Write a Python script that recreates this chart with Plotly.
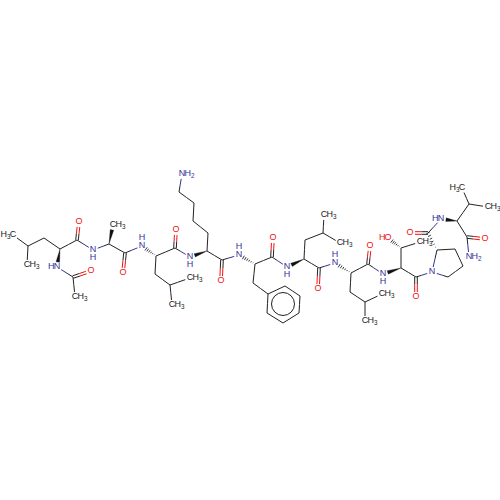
import math

import plotly.graph_objects as go

# atoms, positions in pixels
atom_names = [
    'me1', 'me2', 'cg1', 'cb1', 'ca1', 'c1', 'o1', 'n0', 'ac', 'aco', 'acme',
    'n1', 'ca2', 'me3', 'c2', 'o2', 'n2', 'ca3', 'cb3', 'cg3', 'me4', 'me5', 'c3', 'o3',
    'n3', 'ca4', 'ce1', 'ce2', 'ce3', 'ce4', 'nz', 'c4', 'o4',
    'n4', 'ca5', 'c5', 'o5', 'cb5', 'r1', 'r2', 'r3', 'r4', 'r5', 'r6',
    'n5', 'ca6', 'cb6', 'cg6', 'me6', 'me7', 'c6', 'o6',
    'n6', 'ca7', 'c7', 'o7', 'cb7', 'cg7', 'me8', 'me9',
    'n7', 'ca8', 'c8', 'o8', 'cb8', 'oh', 'me10',
    'n8', 'ca9', 'p1', 'p2', 'p3', 'c9', 'o9',
    'n9', 'ca10', 'cb10', 'me11', 'me12', 'c10', 'o10', 'n10',
]
atom_x = [
    13, 27, 28, 44, 60, 77, 79, 57, 73, 91, 75,
    93, 109, 113, 125, 123, 142, 156, 155, 170, 190, 172, 175, 176,
    190, 207, 208, 193, 194, 179, 182, 222, 221,
    239, 255, 272, 273, 253, 268, 285, 300, 299, 283, 267,
    287, 304, 305, 323, 324, 340, 319, 318,
    335, 351, 368, 370, 350, 365, 382, 365,
    383, 401, 416, 416, 401, 388, 420,
    432, 437, 455, 463, 448, 428, 410,
    441, 457, 469, 462, 488, 467, 485, 469,
]
atom_y = [
    235, 265, 246, 238, 249, 240, 222, 267, 277, 271, 297,
    250, 244, 225, 253, 273, 246, 256, 274, 285, 278, 305, 248, 230,
    257, 251, 233, 221, 203, 192, 174, 260, 281,
    255, 264, 257, 238, 283, 294, 286, 296, 313, 323, 313,
    267, 259, 240, 233, 215, 243, 268, 289,
    263, 273, 264, 246, 292, 302, 294, 321,
    274, 268, 277, 297, 248, 238, 242,
    272, 250, 249, 266, 277, 233, 233,
    219, 221, 204, 188, 207, 237, 239, 257,
]

# labelled atoms: letter on the atom, then what is written around it
label_atoms = ['me1', 'me2', 'o1', 'n0', 'aco', 'acme', 'n1', 'me3', 'o2', 'n2', 'me4', 'me5', 'o3',
               'n3', 'nz', 'o4', 'n4', 'o5', 'n5', 'me6', 'me7', 'o6', 'n6', 'o7', 'me8', 'me9',
               'n7', 'o8', 'oh', 'me10', 'n8', 'o9', 'n9', 'me11', 'me12', 'o10', 'n10']
label_main = ['C', 'C', 'O', 'N', 'O', 'C', 'N', 'C', 'O', 'N', 'C', 'C', 'O',
              'N', 'N', 'O', 'N', 'O', 'N', 'C', 'C', 'O', 'N', 'O', 'C', 'C',
              'N', 'O', 'O', 'C', 'N', 'O', 'N', 'C', 'C', 'O', 'N']
label_extra = ['H3<', 'H3>', '', 'H<', '', 'H3>', 'Hv', 'H3>', '', 'H^', 'H3>', 'H3>', '',
               'Hv', 'H2>', '', 'H^', '', 'Hv', 'H3>', 'H3>', '', 'H^', '', 'H3>', 'H3>',
               'Hv', '', 'H<', 'H3>', '', '', 'H<', 'H3<', 'H3>', '', 'H2>']

# bonds: 1 single, 2 double, w wedge, h hash (narrow end on the first atom)
bond_from = [
    'me1', 'me2', 'cg1', 'cb1', 'ca1', 'c1', 'c1', 'ca1', 'n0', 'ac', 'ac',
    'n1', 'ca2', 'ca2', 'c2', 'c2', 'ca3', 'ca3', 'cb3', 'cg3', 'cg3', 'ca3', 'c3', 'c3',
    'ca4', 'ca4', 'ce1', 'ce2', 'ce3', 'ce4', 'ca4', 'c4', 'c4',
    'ca5', 'ca5', 'c5', 'ca5', 'cb5', 'r1', 'r2', 'r3', 'r4', 'r5', 'r6', 'c5',
    'ca6', 'ca6', 'cb6', 'cg6', 'cg6', 'ca6', 'c6', 'c6',
    'ca7', 'ca7', 'c7', 'ca7', 'cb7', 'cg7', 'cg7', 'c7',
    'ca8', 'ca8', 'cb8', 'cb8', 'ca8', 'c8', 'c8',
    'n8', 'ca9', 'p1', 'p2', 'p3', 'ca9', 'c9', 'c9',
    'ca10', 'ca10', 'cb10', 'cb10', 'ca10', 'c10', 'c10',
]
bond_to = [
    'cg1', 'cg1', 'cb1', 'ca1', 'c1', 'o1', 'n1', 'n0', 'ac', 'aco', 'acme',
    'ca2', 'me3', 'c2', 'o2', 'n2', 'n2', 'cb3', 'cg3', 'me4', 'me5', 'c3', 'o3', 'n3',
    'n3', 'ce1', 'ce2', 'ce3', 'ce4', 'nz', 'c4', 'o4', 'n4',
    'n4', 'c5', 'o5', 'cb5', 'r1', 'r2', 'r3', 'r4', 'r5', 'r6', 'r1', 'n5',
    'n5', 'cb6', 'cg6', 'me6', 'me7', 'c6', 'o6', 'n6',
    'n6', 'c7', 'o7', 'cb7', 'cg7', 'me8', 'me9', 'n7',
    'n7', 'cb8', 'oh', 'me10', 'c8', 'o8', 'n8',
    'ca9', 'p1', 'p2', 'p3', 'n8', 'c9', 'o9', 'n9',
    'n9', 'cb10', 'me11', 'me12', 'c10', 'o10', 'n10',
]
bond_kind = [
    1, 1, 1, 1, 1, 2, 1, 'w', 1, 2, 1,
    1, 'w', 1, 2, 1, 'h', 1, 1, 1, 1, 1, 2, 1,
    'w', 1, 1, 1, 1, 1, 1, 2, 1,
    'h', 1, 2, 1, 1, 1, 1, 1, 1, 1, 1, 1,
    'w', 1, 1, 1, 1, 1, 2, 1,
    'h', 1, 2, 1, 1, 1, 1, 1,
    'w', 1, 'h', 1, 1, 2, 1,
    1, 1, 1, 1, 1, 'h', 2, 1,
    'w', 1, 1, 1, 1, 2, 1,
]

# benzene inner circle
ring_x = [283]
ring_y = [304]
ring_r = [11.5]

colors = {'C': '#222222', 'N': '#33339a', 'O': '#f01010'}
font = 'Liberation Sans, Arial, sans-serif'
label_size = 9

pos = {n: (x, y) for n, x, y in zip(atom_names, atom_x, atom_y)}
elem = {n: 'C' for n in atom_names}
for n, m in zip(label_atoms, label_main):
    elem[n] = m


def trimmed(a, b):
    """Bond ends, pulled back from any atom that has a label"""
    (x0, y0), (x1, y1) = pos[a], pos[b]
    d = math.hypot(x1 - x0, y1 - y0)
    ux, uy = (x1 - x0) / d, (y1 - y0) / d
    t0 = 5 if a in label_atoms else 0
    t1 = 5 if b in label_atoms else 0
    return x0 + ux * t0, y0 + uy * t0, x1 - ux * t1, y1 - uy * t1, -uy, ux


segs = {'C': ([], []), 'N': ([], []), 'O': ([], [])}
wedge_x, wedge_y = [], []
hash_x, hash_y = [], []


def add_half(a, b, x0, y0, x1, y1):
    mx, my = (x0 + x1) / 2, (y0 + y1) / 2
    segs[elem[a]][0].extend([x0, mx, None])
    segs[elem[a]][1].extend([y0, my, None])
    segs[elem[b]][0].extend([mx, x1, None])
    segs[elem[b]][1].extend([my, y1, None])


for a, b, kind in zip(bond_from, bond_to, bond_kind):
    x0, y0, x1, y1, nx, ny = trimmed(a, b)
    if kind == 1:
        add_half(a, b, x0, y0, x1, y1)
    elif kind == 2:
        for s in (-1.3, 1.3):
            add_half(a, b, x0 + nx * s, y0 + ny * s, x1 + nx * s, y1 + ny * s)
    elif kind == 'w':
        wedge_x.extend([x0, x1 + nx * 1.8, x1 - nx * 1.8, x0, None])
        wedge_y.extend([y0, y1 + ny * 1.8, y1 - ny * 1.8, y0, None])
    else:
        for i in range(1, 7):
            f = i / 6
            hx, hy = x0 + (x1 - x0) * f, y0 + (y1 - y0) * f
            w = 2.0 * f
            hash_x.extend([hx + nx * w, hx - nx * w, None])
            hash_y.extend([hy + ny * w, hy - ny * w, None])

fig = go.Figure()

for el, (xs, ys) in segs.items():
    fig.add_trace(go.Scatter(x=xs, y=ys, mode='lines', line=dict(color=colors[el], width=1),
                             hoverinfo='skip', showlegend=False))
fig.add_trace(go.Scatter(x=wedge_x, y=wedge_y, mode='lines', fill='toself', fillcolor='#111111',
                         line=dict(color='#111111', width=0.3), hoverinfo='skip', showlegend=False))
fig.add_trace(go.Scatter(x=hash_x, y=hash_y, mode='lines', line=dict(color='#222222', width=0.9),
                         hoverinfo='skip', showlegend=False))

# inner circle of the phenyl ring
for cx, cy, r in zip(ring_x, ring_y, ring_r):
    fig.add_shape(type='circle', x0=cx - r, x1=cx + r, y0=cy - r, y1=cy + r,
                  line=dict(color=colors['C'], width=1))

# labels, one trace per colour and per alignment
for el in colors:
    mains = [(pos[n], m) for n, m in zip(label_atoms, label_main) if m == el]
    fig.add_trace(go.Scatter(
        x=[p[0] for p, _ in mains], y=[p[1] for p, _ in mains], text=[m for _, m in mains],
        mode='text', textposition='middle center',
        textfont=dict(family=font, size=label_size, color=colors[el]),
        hoverinfo='skip', showlegend=False))

    for mark, anchor, dx, dy in [('>', 'middle right', 2.5, 0), ('<', 'middle left', -2.5, 0),
                                 ('^', 'middle center', 0, -8), ('v', 'middle center', 0, 8)]:
        xs, ys, ts = [], [], []
        for n, m, extra in zip(label_atoms, label_main, label_extra):
            if m != el or not extra.endswith(mark):
                continue
            body = extra[:-1]
            if len(body) > 1:
                body = body[0] + '<sub>' + body[1] + '</sub>'
            xs.append(pos[n][0] + dx)
            ys.append(pos[n][1] + dy)
            ts.append(body)
        if xs:
            fig.add_trace(go.Scatter(x=xs, y=ys, text=ts, mode='text', textposition=anchor,
                                     textfont=dict(family=font, size=label_size, color=colors[el]),
                                     hoverinfo='skip', showlegend=False))

fig.update_layout(
    width=500,
    height=500,
    margin=dict(l=0, r=0, t=0, b=0),
    paper_bgcolor='white',
    plot_bgcolor='white',
    showlegend=False,
)
fig.update_xaxes(range=[0, 500], visible=False, fixedrange=True)
fig.update_yaxes(range=[500, 0], visible=False, fixedrange=True)

# page has a default body margin, drop it so pixels line up
fig.write_html("out.html", config={'displayModeBar': False},
               post_script="document.body.style.margin='0';")
